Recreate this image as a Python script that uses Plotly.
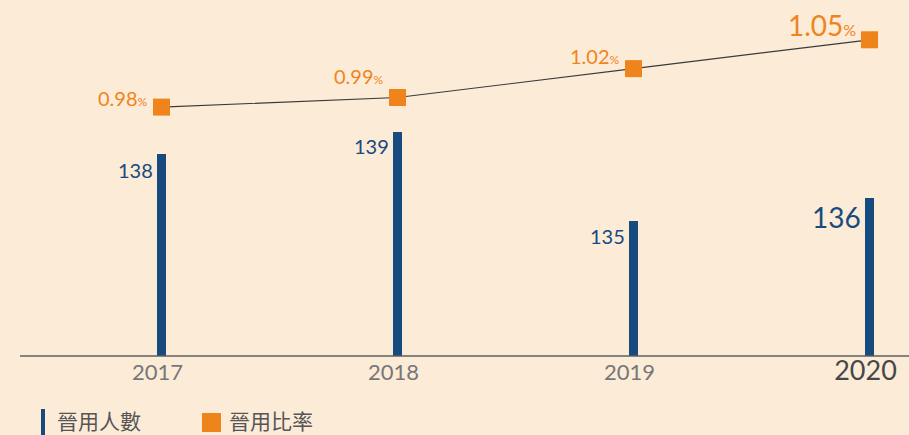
import plotly.graph_objects as go

# Data
years = [2017, 2018, 2019, 2020]
hires = [138, 139, 135, 136]            # 晉用人數
hire_rate = [0.98, 0.99, 1.02, 1.05]    # 晉用比率 (%)

W, H = 909, 435
MB = 79                       # bottom margin (axis line sits at y = H - MB)
PLOT_H = H - MB

BLUE = "#174A7E"
ORANGE = "#F0841C"
BG = "#FCEBD7"
NUM_FONT = "Lato"
CJK_FONT = "Noto Sans CJK TC"

fig = go.Figure()

fig.add_trace(go.Bar(
    x=years, y=hires, width=0.034, marker=dict(color=BLUE, line=dict(width=0)),
    yaxis="y", showlegend=False, hoverinfo="skip",
))

fig.add_trace(go.Scatter(
    x=years, y=hire_rate, mode="lines+markers", yaxis="y2",
    line=dict(color="#3a3a3a", width=1.2),
    marker=dict(symbol="square", size=17, color=ORANGE, line=dict(width=0)),
    showlegend=False, hoverinfo="skip",
))

# value labels on the bars (left of each bar top)
bar_label_size = [20, 20, 20, 28]
bar_label_dy = [-16, -14, -15, -19]
for x, v, fs, dy in zip(years, hires, bar_label_size, bar_label_dy):
    fig.add_annotation(
        x=x, y=v, xref="x", yref="y", text=str(v), showarrow=False,
        xanchor="right", yanchor="middle", xshift=-7, yshift=dy,
        font=dict(family=NUM_FONT, size=fs, color=BLUE),
    )

# percentage labels beside each marker
rate_label_size = [20, 20, 20, 28]
rate_pct_size = [12, 12, 12, 16]
rate_label_dy = [9, 22, 13, 15]
for x, v, fs, ps, dy in zip(years, hire_rate, rate_label_size, rate_pct_size, rate_label_dy):
    fig.add_annotation(
        x=x, y=v, xref="x", yref="y2",
        text=f"{v:.2f}<span style='font-size:{ps}px'>%</span>",
        showarrow=False, xanchor="right", yanchor="middle",
        xshift=-12, yshift=dy,
        font=dict(family=NUM_FONT, size=fs, color=ORANGE),
    )

# tick labels, last year emphasised
ticktext = [str(y) for y in years[:-1]] + [
    f"<span style='font-size:27px;color:#474747'>{years[-1]}</span>"
]

# horizontal axis: year positions spaced 236 px, first at 161.5 px
px_per_year = 236.0
x0_px = 161.5
x_lo = years[0] - x0_px / px_per_year
x_hi = x_lo + W / px_per_year

# bar axis: 22.25 px per person, clipped base
bar_px = 22.25
bar_lo = 128.92
bar_hi = bar_lo + PLOT_H / bar_px

# rate axis
rate_px = 961.7
rate_lo = 0.7212
rate_hi = rate_lo + PLOT_H / rate_px

fig.update_layout(
    width=W, height=H,
    margin=dict(l=0, r=0, t=0, b=MB),
    paper_bgcolor=BG, plot_bgcolor=BG,
    bargap=0,
    xaxis=dict(
        range=[x_lo, x_hi], tickvals=years, ticktext=ticktext,
        showgrid=False, zeroline=False, showline=False, ticks="",
        tickfont=dict(family=NUM_FONT, size=22, color="#777777"),
        ticklabelshift=-4, ticklabelstandoff=1,
    ),
    yaxis=dict(range=[bar_lo, bar_hi], visible=False, showgrid=False),
    yaxis2=dict(range=[rate_lo, rate_hi], overlaying="y", visible=False,
                showgrid=False),
)

# baseline axis line starting a little in from the left edge
fig.add_shape(type="line", xref="paper", yref="paper",
              x0=20 / W, x1=1, y0=0, y1=0,
              line=dict(color="#5f5f5f", width=1.5))


def py(v):
    """pixel row (from top) to paper y"""
    return (PLOT_H - v) / PLOT_H


# legend marks
fig.add_shape(type="rect", xref="paper", yref="paper",
              x0=41 / W, x1=45 / W, y0=py(409), y1=py(436),
              fillcolor=BLUE, line=dict(width=0))
fig.add_shape(type="rect", xref="paper", yref="paper",
              x0=202 / W, x1=221 / W, y0=py(413), y1=py(432),
              fillcolor=ORANGE, line=dict(width=0))
for x_px, label in [(56, "晉用人數"), (228, "晉用比率")]:
    fig.add_annotation(
        x=x_px / W, y=py(420), xref="paper", yref="paper", text=label,
        showarrow=False, xanchor="left", yanchor="middle", borderpad=0,
        font=dict(family=CJK_FONT, size=21, color="#555555"),
    )

fig.write_html("out.html")
